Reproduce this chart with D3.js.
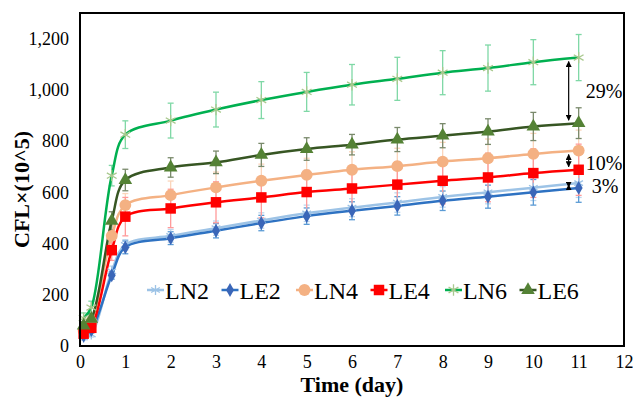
<!DOCTYPE html>
<html>
<head>
<meta charset="utf-8">
<script src="https://cdn.jsdelivr.net/npm/d3@7"></script>
<style>
  body { margin: 0; background: #fff; }
  svg text { font-family: "Liberation Serif", "Times New Roman", serif !important; fill: #000; }
</style>
</head>
<body>
<svg id="chart"></svg>
<script>
// data
const days = [0.08, 0.25, 0.7, 1, 2, 3, 4, 5, 6, 7, 8, 9, 10, 11];
const seriesNames = ["LN2", "LE2", "LN4", "LE4", "LN6", "LE6"];

const ln2 = [33, 45, 292, 395, 430, 460, 490, 518, 540, 560, 582, 600, 618, 636];
const le2 = [40, 62, 276, 385, 421, 450, 480, 507, 528, 547, 567, 583, 600, 617];
const ln4 = [60, 95, 430, 550, 589, 619, 645, 668, 688, 702, 720, 733, 750, 763];
const le4 = [48, 71, 374, 505, 537, 561, 580, 601, 615, 630, 645, 658, 675, 688];
const ln6 = [109, 150, 665, 825, 880, 923, 960, 992, 1020, 1043, 1067, 1085, 1108, 1126];
const le6 = [80, 106, 489, 648, 697, 717, 746, 769, 786, 806, 821, 837, 857, 870];

const ln2Err = [10, 10, 20, 20, 25, 28, 30, 32, 35, 38, 40, 45, 50, 56];
const le2Err = [8, 10, 15, 25, 25, 28, 30, 32, 35, 36, 38, 45, 50, 56];
const ln4Err = [10, 15, 40, 45, 55, 60, 65, 65, 70, 70, 75, 75, 80, 80];
const le4Err = [10, 15, 40, 75, 75, 80, 80, 85, 85, 90, 90, 95, 95, 100];
const ln6Err = [20, 25, 40, 54, 68, 68, 72, 76, 79, 84, 86, 90, 88, 90];
const le6Err = [15, 20, 35, 42, 38, 44, 45, 44, 40, 47, 47, 50, 55, 60];

const xTicks = [0, 1, 2, 3, 4, 5, 6, 7, 8, 9, 10, 11, 12];
const yTicks = [0, 200, 400, 600, 800, 1000, 1200];

// gaps marked at day 11: [upper, lower, label]
const gapNotes = [["LN6", "LE6", "29%"], ["LN4", "LE4", "10%"], ["LN2", "LE2", "3%"]];

const width = 633, height = 400;
const margin = { top: 13, right: 9, bottom: 54, left: 80 };
const innerW = width - margin.left - margin.right;
const innerH = height - margin.top - margin.bottom;
const serif = '"Liberation Serif", "Times New Roman", serif';

const styles = {
  LN2: { line: "#9dc3e6", marker: "#9dc3e6", err: "#bdd7ee", symbol: d3.symbolAsterisk, size: 70, stroke: true, lw: 2.5 },
  LE2: { line: "#2e72c2", marker: "#3a66b8", err: "#5b9bd5", symbol: d3.symbolDiamond, size: 55, lw: 2.5 },
  LN4: { line: "#f4b183", marker: "#f4b183", err: "#fbd5bb", symbol: d3.symbolCircle, size: 110, lw: 2.5 },
  LE4: { line: "#ff0000", marker: "#ff0000", err: "#ff9a9a", symbol: d3.symbolSquare, size: 110, lw: 2.5 },
  LN6: { line: "#00b050", marker: "#a9c98e", err: "#7fd8a6", symbol: d3.symbolAsterisk, size: 90, stroke: true, lw: 2.5 },
  LE6: { line: "#375623", marker: "#548235", err: "#7a8a6c", symbol: d3.symbolTriangle, size: 80, lw: 2.5 }
};

const values = { LN2: ln2, LE2: le2, LN4: ln4, LE4: le4, LN6: ln6, LE6: le6 };
const errors = { LN2: ln2Err, LE2: le2Err, LN4: ln4Err, LE4: le4Err, LN6: ln6Err, LE6: le6Err };

const series = seriesNames.map(name => ({
  name: name,
  points: days.map((d, i) => ({ x: d, y: values[name][i], e: errors[name][i] }))
}));

const svg = d3.select("#chart").attr("width", width).attr("height", height)
  .attr("font-family", serif);
const chart = svg.append("g").attr("transform", `translate(${margin.left},${margin.top})`);

const x = d3.scaleLinear().domain([0, 12]).range([0, innerW]);
const y = d3.scaleLinear().domain([0, 1300]).range([innerH, 0]);

// axes
const xAxis = chart.append("g")
  .attr("transform", `translate(0,${innerH})`)
  .call(d3.axisBottom(x).tickValues(xTicks).tickSize(0).tickPadding(9).tickFormat(d3.format("d")));
const yAxis = chart.append("g")
  .call(d3.axisLeft(y).tickValues(yTicks).tickSize(0).tickPadding(11).tickFormat(d3.format(",")));
[xAxis, yAxis].forEach(g => {
  g.attr("font-family", serif).attr("font-size", 18);
  g.select(".domain").remove();
  g.selectAll("text").attr("fill", "#000");
});

// error bars
const cap = 3;
series.forEach(s => {
  const st = styles[s.name];
  const g = chart.append("g").attr("stroke", st.err).attr("stroke-width", 1.3);
  s.points.forEach(p => {
    g.append("line").attr("x1", x(p.x)).attr("x2", x(p.x)).attr("y1", y(p.y - p.e)).attr("y2", y(p.y + p.e));
    g.append("line").attr("x1", x(p.x) - cap).attr("x2", x(p.x) + cap).attr("y1", y(p.y - p.e)).attr("y2", y(p.y - p.e));
    g.append("line").attr("x1", x(p.x) - cap).attr("x2", x(p.x) + cap).attr("y1", y(p.y + p.e)).attr("y2", y(p.y + p.e));
  });
});

// smoothed lines
const line = d3.line().x(d => x(d.x)).y(d => y(d.y)).curve(d3.curveCatmullRom.alpha(0.5));
series.forEach(s => {
  const st = styles[s.name];
  chart.append("path").datum(s.points)
    .attr("fill", "none").attr("stroke", st.line).attr("stroke-width", st.lw)
    .attr("d", line);
});

// markers
function drawMarker(g, st, cx, cy) {
  const p = g.append("path")
    .attr("d", d3.symbol().type(st.symbol).size(st.size)())
    .attr("transform", `translate(${cx},${cy})`);
  if (st.stroke) p.attr("fill", "none").attr("stroke", st.marker).attr("stroke-width", 1.3);
  else p.attr("fill", st.marker);
}
series.forEach(s => {
  const st = styles[s.name];
  const g = chart.append("g");
  s.points.forEach(p => drawMarker(g, st, x(p.x), y(p.y)));
});

// frame
chart.append("rect").attr("x", 0).attr("y", 0).attr("width", innerW).attr("height", innerH)
  .attr("fill", "none").attr("stroke", "#000").attr("stroke-width", 2);

// gap arrows at the last day
svg.append("defs").append("marker")
  .attr("id", "arr").attr("viewBox", "0 0 10 10").attr("refX", 9).attr("refY", 5)
  .attr("markerWidth", 5).attr("markerHeight", 5).attr("orient", "auto-start-reverse")
  .append("path").attr("d", "M0,0 L10,5 L0,10 z").attr("fill", "#000");
const last = days.length - 1;
gapNotes.forEach(([hi, lo, label], i) => {
  const ax = x(days[last]) - 10;
  const y1 = y(values[hi][last]) + 4, y2 = y(values[lo][last]) - 3;
  chart.append("line").attr("x1", ax).attr("x2", ax).attr("y1", y1).attr("y2", y2)
    .attr("stroke", "#000").attr("stroke-width", 1.2)
    .attr("marker-start", "url(#arr)").attr("marker-end", "url(#arr)");
  const ty = i === 0 ? (y1 + y2) / 2 + 7 : (i === 1 ? y2 + 3 : y2 + 8);
  chart.append("text").attr("x", x(days[last]) + (i === 2 ? 13 : 7)).attr("y", ty)
    .attr("font-size", 20).text(label);
});

// legend
const legend = svg.append("g").attr("transform", "translate(147,290)");
seriesNames.forEach((name, i) => {
  const st = styles[name];
  const g = legend.append("g").attr("transform", `translate(${i * 74.5},0)`);
  g.append("line").attr("x1", 0).attr("x2", 17).attr("y1", 0).attr("y2", 0)
    .attr("stroke", st.line).attr("stroke-width", 2.5);
  drawMarker(g, st, 8.5, 0);
  g.append("text").attr("x", 18).attr("y", 8.5).attr("font-size", 24).text(name);
});

// axis titles
svg.append("text")
  .attr("x", margin.left + innerW / 2).attr("y", 392)
  .attr("text-anchor", "middle").attr("font-size", 22).attr("font-weight", "bold")
  .text("Time (day)");
svg.append("text")
  .attr("transform", `translate(29,${margin.top + innerH / 2 + 10}) rotate(-90)`)
  .attr("text-anchor", "middle").attr("font-size", 22).attr("font-weight", "bold")
  .text("CFL×(10^5)");
</script>
</body>
</html>
